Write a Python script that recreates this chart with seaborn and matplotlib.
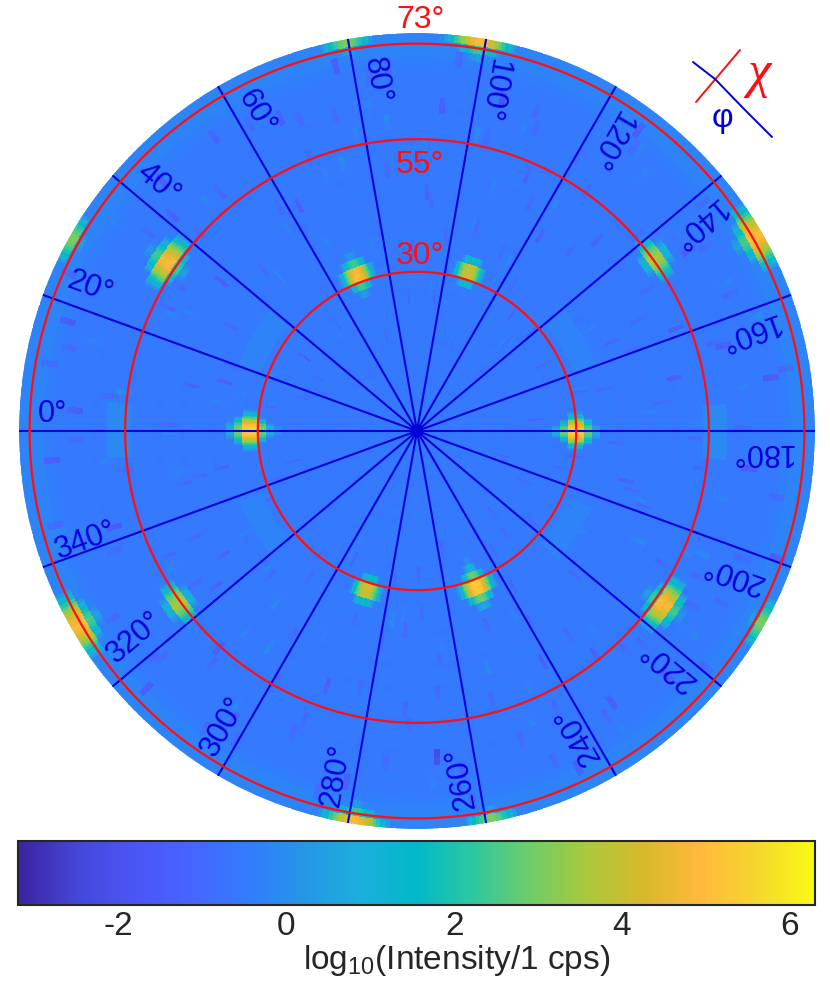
import numpy as np
import seaborn as sns
import matplotlib
matplotlib.use('Agg')
import matplotlib.pyplot as plt
from matplotlib.lines import Line2D
from matplotlib.cm import ScalarMappable
from matplotlib.colors import Normalize

# peaks: phi (deg), chi (deg), peak log10 intensity
peak_phi = [0, 69, 108, 180, 249, 287.5,
            34, 144, 215, 324,
            99, 79.5, 150, 29, 330, 209, 279, 259]
peak_chi = [31, 31, 31, 29, 31, 31,
            56, 55, 56, 55,
            74, 74, 73, 74, 73, 74, 74, 74]
peak_val = [5.7, 5.0, 4.2, 5.5, 5.5, 4.3,
            5.0, 3.7, 5.0, 3.7,
            5.0, 3.1, 5.1, 3.1, 5.1, 3.1, 4.9, 3.1]

# how fast a peak falls off, per half degree of phi away from centre and per chi cell
phi_drop_inner = [0, .05, .2, .4, .7, 1.1, 1.5, 2, 2.6, 3.2, 3.8, 4.3, 4.8, 5.2, 5.6]
phi_drop_mid = [0, .1, .3, .6, .9, 1.3, 1.8, 2.4, 3, 3.6, 4.2, 4.8, 5.4]
phi_drop_outer = [0, .15, .4, .75, 1.1, 1.6, 2.2, 2.8, 3.4, 4, 4.6]
chi_drop = [5.5, 4.6, 2.6, 0, 0.2, 2.6, 4.8]

# faint halos
halo_phi = [30, 150, 213, 329, 0, 180]
halo_chi = [33, 33, 33, 33, 56, 56]
halo_width = [9, 9, 9, 9, 5, 5]
halo_val = [-0.3, -0.3, -0.3, -0.3, -0.1, -0.1]

# background level of each chi ring, centre to rim (50 rings of 1.5 deg)
ring_level = [-0.45, -0.55, -0.5, -0.6, -0.5, -0.55, -0.6, -0.5, -0.55, -0.6,
              -0.5, -0.6, -0.55, -0.5, -0.6, -0.55, -0.5, -0.6, -0.55, -0.5,
              -0.55, -0.6, -0.5, -0.55, -0.5, -0.6, -0.55, -0.5, -0.55, -0.6,
              -0.5, -0.55, -0.6, -0.5, -0.55, -0.5, -0.6, -0.55, -0.5, -0.55,
              -0.6, -0.5, -0.55, -0.5, -0.55, -0.5, -0.4, -0.3, -0.25, -0.25]

# strongest dark and light streaks seen in the background
speck_phi = [3, 11, 17, 26, 33, 41, 48, 55, 62, 71, 77, 84, 92, 97, 104, 113, 118, 126, 133, 139,
             146, 155, 161, 168, 174, 186, 193, 199, 206, 218, 224, 231, 238, 244, 253, 258, 266, 273, 281, 289,
             296, 302, 309, 316, 322, 335, 342, 349, 355, 7, 22, 37, 52, 66, 88, 101, 122, 137, 158, 171,
             189, 203, 227, 241, 262, 277, 293, 312, 327, 346, 14, 44, 74, 94, 129, 164, 196, 234, 269, 304]
speck_chi = [63, 42, 68, 51, 25, 60, 38, 66, 47, 30, 70, 58, 44, 24, 64, 52, 35, 69, 48, 27,
             61, 40, 67, 49, 22, 62, 39, 71, 46, 28, 65, 53, 34, 69, 45, 21, 60, 37, 66, 50,
             26, 63, 41, 70, 47, 31, 59, 36, 68, 54, 18, 45, 13, 64, 33, 56, 42, 16, 52, 66,
             29, 57, 20, 48, 64, 35, 11, 55, 43, 23, 37, 67, 52, 61, 28, 59, 15, 62, 26, 48]
speck_val = [-1.4, -1.2, -1.5, -1.1, -1.3, -1.4, -0.3, -1.2, -1.4, -1.1, -1.4, -0.3, -1.3, -1.1, -1.9, -1.2, -0.3, -1.4, -1.2, -1.3,
             -1.4, -1.1, -0.3, -1.4, -1.2, -1.5, -1.2, -1.4, -0.3, -1.1, -1.4, -1.3, -1.2, -1.4, -0.3, -1.2, -2.2, -1.1, -1.4, -1.3,
             -1.2, -1.4, -0.3, -1.4, -1.2, -1.1, -1.6, -1.2, -1.4, -0.3, -1.1, -1.4, -1.0, -1.4, -1.2, -0.3, -1.3, -1.1, -1.4, -1.5,
             -1.2, -0.3, -1.1, -1.4, -1.4, -0.3, -1.0, -1.4, -1.2, -1.1, -1.3, -1.4, -0.3, -1.4, -1.2, -1.4, -1.1, -1.4, -1.1, -0.3]

# the many weak violet streaks
dark_phi = [1, 6, 9, 13, 19, 24, 28, 31, 36, 39, 43, 46, 50, 53, 58, 61, 65, 68, 72, 75,
            79, 82, 86, 90, 93, 96, 100, 103, 106, 110, 112, 116, 120, 123, 127, 130, 135, 138, 141, 145,
            148, 152, 156, 159, 163, 166, 170, 173, 177, 179, 183, 187, 190, 194, 198, 201, 205, 208, 212, 215,
            219, 222, 226, 229, 233, 236, 240, 243, 247, 250, 254, 257, 261, 264, 268, 271, 275, 278, 282, 285,
            288, 292, 295, 299, 301, 305, 308, 311, 315, 318, 321, 325, 328, 331, 334, 338, 341, 345, 348, 352,
            356, 358, 4, 16, 29, 42, 56, 69, 83, 98, 111, 125, 140, 153, 167, 181, 195, 209, 223, 237,
            251, 265, 279, 291, 306, 319, 333, 347, 10, 35, 60, 85, 115, 147, 176, 207, 239, 272, 300, 337]
dark_chi = [45, 58, 27, 66, 36, 71, 20, 52, 62, 33, 69, 41, 57, 24, 48, 65, 30, 54, 18, 60,
            38, 67, 25, 50, 43, 70, 29, 56, 39, 63, 17, 47, 59, 32, 66, 44, 23, 55, 68, 35,
            50, 26, 64, 42, 58, 31, 70, 46, 19, 61, 37, 53, 68, 28, 44, 65, 22, 51, 60, 34,
            70, 40, 56, 24, 47, 63, 30, 58, 67, 38, 52, 21, 69, 43, 33, 55, 62, 27, 49, 70,
            36, 61, 16, 53, 44, 68, 29, 57, 38, 64, 23, 50, 66, 34, 46, 60, 27, 69, 41, 55,
            32, 63, 14, 22, 40, 55, 30, 62, 49, 37, 60, 54, 25, 46, 35, 52, 41, 65, 57, 26,
            61, 48, 39, 58, 33, 65, 52, 44, 69, 56, 42, 68, 37, 63, 27, 59, 41, 51, 67, 12]
light_phi = [2, 8, 15, 21, 27, 34, 40, 47, 51, 57, 63, 70, 76, 81, 87, 91, 99, 105, 109, 117,
             121, 128, 134, 142, 149, 154, 160, 165, 172, 178, 184, 191, 197, 204, 211, 216, 221, 228, 235, 242,
             248, 255, 260, 267, 274, 280, 286, 294, 298, 303, 310, 317, 324, 330, 336, 343, 350, 354, 12, 25,
             45, 64, 78, 95, 107, 131, 144, 162, 175, 192, 210, 225, 246, 263, 283, 297, 314, 329, 344, 359]
light_chi = [55, 37, 62, 28, 47, 68, 33, 58, 22, 44, 65, 50, 35, 61, 27, 53, 70, 40, 59, 31,
             48, 66, 21, 56, 37, 64, 45, 30, 60, 52, 26, 69, 42, 55, 35, 63, 18, 49, 67, 38,
             57, 28, 46, 65, 34, 54, 70, 41, 24, 60, 48, 36, 67, 52, 29, 63, 44, 57, 32, 50,
             65, 38, 56, 26, 47, 63, 33, 69, 43, 58, 30, 61, 51, 39, 64, 22, 55, 36, 68, 46]

phi_lines = list(range(0, 360, 20))
chi_rings = [30, 55, 73]
colorbar_ticks = [-2, 0, 2, 4, 6]

parula = sns.blend_palette(['#3c239f', '#4446d8', '#4b55f5', '#4764ff', '#337bff', '#2596e6', '#1cafdc',
                            '#00b9c8', '#2dc8a0', '#6ecd69', '#aac83c', '#d7b92d', '#ffb93c', '#f5d72d',
                            '#faf914'], n_colors=256, as_cmap=True)

sns.set_theme(style='white')
plt.rcParams['font.family'] = ['Liberation Sans', 'DejaVu Sans']
plt.rcParams['mathtext.default'] = 'regular'
plt.rcParams['axes.unicode_minus'] = False

W, H = 830, 984
fig = plt.figure(figsize=(W / 100, H / 100), dpi=100)
ax = fig.add_axes([19 / W, 1 - 829 / H, 796 / W, 796 / H], projection='polar')
ax.set_theta_zero_location('W')
ax.set_theta_direction(-1)

phi_edges = np.arange(0, 360.1, 0.5)
chi_edges = np.arange(0, 75.1, 1.5)
grid = np.repeat(np.array(ring_level)[:, None], 720, axis=1)


def ring_cell(chi):
    return min(int(chi / 1.5), len(ring_level) - 1)


def add_streak(phi, chi, val):
    row = ring_cell(chi)
    for r, v in ((row, val), (min(row + 1, 49), val + 0.2)):
        grid[r, phi * 2] = v
        grid[r, phi * 2 + 1] = v


for p, c in zip(light_phi, light_chi):
    add_streak(p, c, -0.45)
for p, c in zip(dark_phi, dark_chi):
    add_streak(p, c, -1.0)
for p, c, v in zip(speck_phi, speck_chi, speck_val):
    add_streak(p, c, v)

for p, c, w, v in zip(halo_phi, halo_chi, halo_width, halo_val):
    for dp in range(-2 * w, 2 * w + 1):
        for row in range(ring_cell(c) - 1, ring_cell(c) + 2):
            col = (p * 2 + dp) % 720
            grid[row, col] = max(grid[row, col], v)

for p, c, v in zip(peak_phi, peak_chi, peak_val):
    drops = phi_drop_inner if c < 40 else phi_drop_mid if c < 65 else phi_drop_outer
    centre = ring_cell(c)
    for k, dc in enumerate(chi_drop):
        row = centre + k - 3
        if row < 0 or row >= len(ring_level):
            continue
        for dp in range(-len(drops) + 1, len(drops)):
            col = int(p * 2 + dp) % 720
            grid[row, col] = max(grid[row, col], v - dc - drops[abs(dp)])

norm = Normalize(-3.2, 6.3)
ax.pcolormesh(np.radians(phi_edges), chi_edges, grid, cmap=parula, norm=norm, shading='flat', rasterized=True)

for phi in phi_lines:
    ax.plot([np.radians(phi), np.radians(phi)], [0, 75], color='#0000dc', lw=1.5)
theta = np.radians(np.arange(0, 361))
for chi in chi_rings:
    ax.plot(theta, np.full_like(theta, chi, dtype=float), color='#ff0f0f', lw=1.6)
ax.set_rlim(0, 75)
ax.axis('off')

# label centres in reference pixels
phi_label_pos = {0: (52, 414), 20: (90, 287), 40: (158, 184), 60: (256, 112), 80: (377, 80),
                 100: (493, 91), 120: (609, 140), 140: (696, 223), 160: (748, 331), 180: (761, 452),
                 200: (733, 574), 220: (668, 665), 240: (578, 735), 260: (461, 778), 280: (336, 775),
                 300: (224, 727), 320: (135, 638), 340: (86, 541)}
for phi, (x, y) in phi_label_pos.items():
    fig.text(x / W, 1 - y / H, f'{phi}°', color='#0000dc', fontsize=22, rotation=-phi,
             rotation_mode='anchor', ha='center', va='center')
for chi, y in zip([73, 55, 30], [20, 165, 256]):
    fig.text(420 / W, 1 - y / H, f'{chi}°', color='#ff0f0f', fontsize=23, ha='center', va='center')

# key in the top right corner
fig.add_artist(Line2D([696 / W, 740 / W], [1 - 102 / H, 1 - 50 / H], color='#ff0f0f', lw=1.4))
fig.add_artist(Line2D([693 / W, 715 / W, 743 / W, 772 / W], [1 - 62 / H, 1 - 79 / H, 1 - 108 / H, 1 - 137 / H],
                      color='#0000dc', lw=1.4))
fig.text(759 / W, 1 - 74 / H, 'χ', color='#ff0f0f', fontsize=38, family='Liberation Serif', style='italic',
         ha='center', va='center')
fig.text(722 / W, 1 - 118 / H, 'φ', color='#0000dc', fontsize=24, ha='center', va='center')

cax = fig.add_axes([18 / W, 1 - 905 / H, 797 / W, 64 / H])
cb = fig.colorbar(ScalarMappable(norm=norm, cmap=parula), cax=cax, orientation='horizontal', ticks=colorbar_ticks)
cb.outline.set_edgecolor('#262626')
cb.outline.set_linewidth(1.5)
cax.tick_params(axis='x', direction='in', length=8, width=1, color='#262626', labelsize=24, labelcolor='#262626', pad=4, bottom=True)
fig.text(457 / W, 1 - 960 / H, 'log$_{10}$(Intensity/1 cps)', fontsize=24, color='#262626', ha='center', va='center')

fig.savefig('out.png', dpi=100)
plt.close(fig)
